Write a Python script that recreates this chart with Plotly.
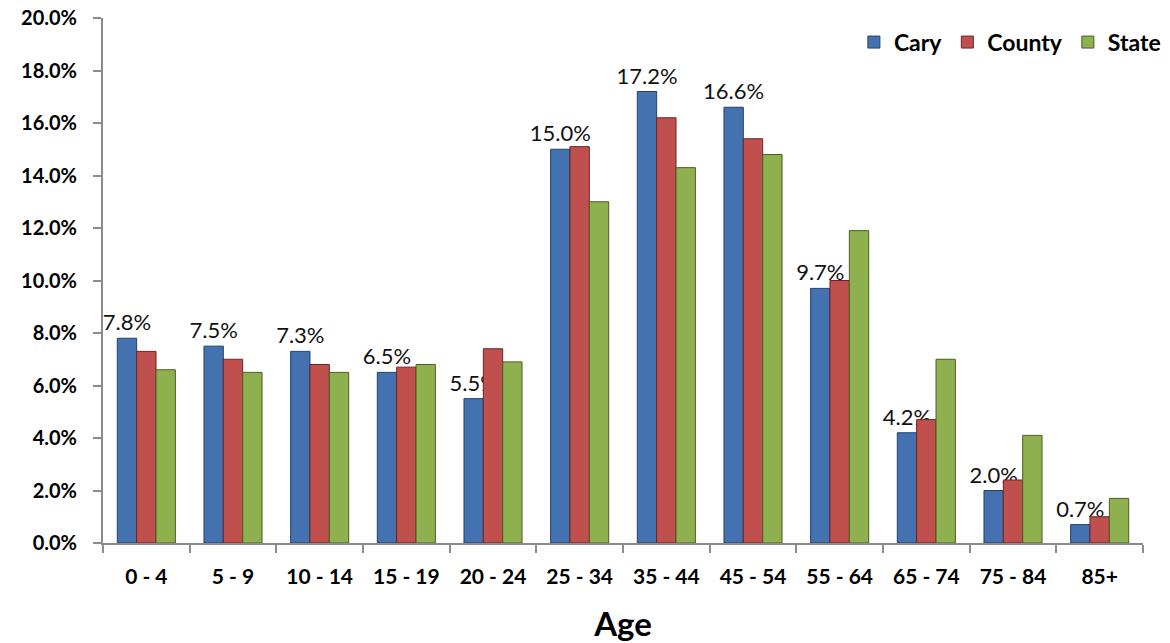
import plotly.graph_objects as go

ages = ["0 - 4", "5 - 9", "10 - 14", "15 - 19", "20 - 24", "25 - 34", "35 - 44",
        "45 - 54", "55 - 64", "65 - 74", "75 - 84", "85+"]
cary = [7.8, 7.5, 7.3, 6.5, 5.5, 15.0, 17.2, 16.6, 9.7, 4.2, 2.0, 0.7]
county = [7.3, 7.0, 6.8, 6.7, 7.4, 15.1, 16.2, 15.4, 10.0, 4.7, 2.4, 1.0]
state = [6.6, 6.5, 6.5, 6.8, 6.9, 13.0, 14.3, 14.8, 11.9, 7.0, 4.1, 1.7]

FONT = "Lato, Liberation Sans, sans-serif"

fig = go.Figure()
fig.add_trace(go.Bar(
    name="Cary", x=ages, y=cary,
    marker=dict(color="#4472B0", line=dict(color="#22406A", width=1)),
    text=[f"{v:.1f}%" for v in cary], textposition="outside",
    constraintext="none",
    textfont=dict(family=FONT, size=22, color="#111"), cliponaxis=False,
))
fig.add_trace(go.Bar(
    name="County", x=ages, y=county,
    marker=dict(color="#C0504D", line=dict(color="#6E2422", width=1)),
))
fig.add_trace(go.Bar(
    name="State", x=ages, y=state,
    marker=dict(color="#8FB04E", line=dict(color="#4A5E22", width=1)),
))

fig.update_layout(
    width=1170, height=643,
    paper_bgcolor="white", plot_bgcolor="white",
    margin=dict(l=103, r=27, t=18, b=100, autoexpand=False),
    barmode="group", bargap=0.33, bargroupgap=0,
    font=dict(family=FONT, color="#000"),
    legend=dict(orientation="h", x=1.022, xanchor="right", y=0.995, yanchor="top",
                font=dict(family=FONT, size=23, color="#000", weight="bold"),
                bgcolor="rgba(255,255,255,0)", itemwidth=30, traceorder="normal"),
    xaxis=dict(
        title=dict(text="Age", font=dict(family=FONT, size=33, weight="bold"), standoff=26),
        showline=True, linecolor="#8C8C8C", linewidth=2,
        ticks="outside", tickson="boundaries", ticklen=8, tickcolor="#8C8C8C", tickwidth=2,
        tickfont=dict(family=FONT, size=21, weight="bold"), ticklabelstandoff=14,
        showgrid=False,
    ),
    yaxis=dict(
        range=[0, 20], dtick=2, tickformat=".1f", ticksuffix="%",
        showline=True, linecolor="#8C8C8C", linewidth=2,
        ticks="outside", ticklen=8, tickcolor="#8C8C8C", tickwidth=2,
        tickfont=dict(family=FONT, size=20, weight="bold"), ticklabelstandoff=12,
        ticklabeloverflow="allow",
        showgrid=False, zeroline=False,
    ),
)

fig.write_html("out.html", config={"displayModeBar": False},
               post_script="document.body.style.margin='0';document.body.style.overflow='hidden';")
